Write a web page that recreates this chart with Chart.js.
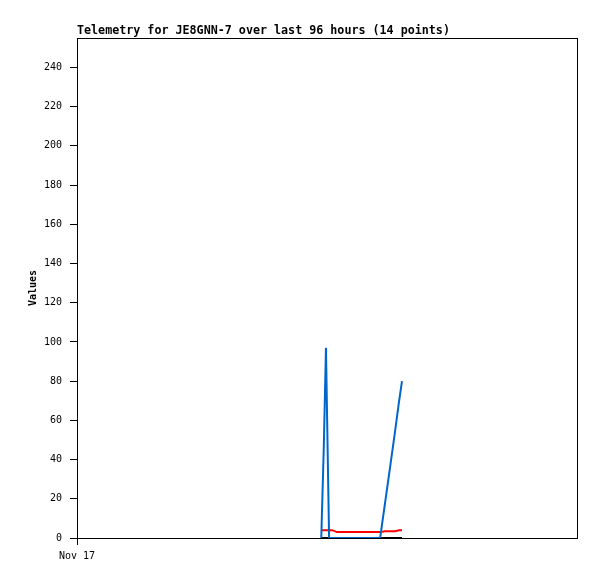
<!DOCTYPE html>
<html>
<head>
<meta charset="utf-8">
<script src="https://cdn.jsdelivr.net/npm/chart.js@4/dist/chart.umd.min.js"></script>
<style>
  html, body { margin: 0; padding: 0; background: #fff; }
  #wrap { width: 597px; height: 579px; }
</style>
</head>
<body>
<div id="wrap"><canvas id="telemetry" width="597" height="579"></canvas></div>
<script>
// data, hours since Nov 17 00:00
const hours = [46.9, 47.4, 47.8, 48.4, 49.0, 49.9, 52.0, 55.0, 58.2, 59.1, 60.0, 61.1, 61.8, 62.4];
const blueVals = [0, 48, 97, 0, 0, 0, 0, 0, 0, 17, 34, 55, 69, 80];
const redVals = [4, 4, 4, 4, 4, 3, 3, 3, 3, 3.4, 3.4, 3.4, 3.9, 3.9];
const blackVals = [0, 0, 0, 0, 0, 0, 0, 0, 0, 0, 0, 0, 0, 0];
const yTicks = [0, 20, 40, 60, 80, 100, 120, 140, 160, 180, 200, 220, 240];
const xTickLabels = ["Nov 17"];
const titleText = "Telemetry for JE8GNN-7 over last 96 hours (14 points)";

const mono = "'DejaVu Sans Mono', monospace";

const toPoints = (vals) => vals.map((v, i) => ({ x: hours[i], y: v }));

// ! frame + title
const framePlugin = {
  id: "frame",
  afterDraw(chart) {
    const { ctx, chartArea } = chart;
    ctx.save();
    ctx.strokeStyle = "#000";
    ctx.lineWidth = 1;
    ctx.strokeRect(chartArea.left + 0.5, chartArea.top + 0.5, chartArea.right - chartArea.left, chartArea.bottom - chartArea.top);
    ctx.fillStyle = "#000";
    ctx.font = "bold 11.7px " + mono;
    ctx.textBaseline = "alphabetic";
    ctx.fillText(titleText, chartArea.left, 34);
    ctx.restore();
  },
};

const ctx = document.querySelector("#telemetry").getContext("2d");
new Chart(ctx, {
  type: "line",
  data: {
    datasets: [
      {
        label: "blue",
        data: toPoints(blueVals),
        borderColor: "#0066cc",
        borderWidth: 2,
      },
      {
        label: "red",
        data: toPoints(redVals),
        borderColor: "#ff0000",
        borderWidth: 2,
      },
      {
        label: "black",
        data: toPoints(blackVals),
        borderColor: "#000000",
        borderWidth: 2,
      },
    ],
  },
  options: {
    responsive: false,
    animation: false,
    layout: { padding: { top: 38, right: 20, left: 0, bottom: 0 } },
    elements: { point: { radius: 0 }, line: { tension: 0 } },
    plugins: {
      legend: { display: false },
      tooltip: { enabled: false },
      title: { display: false },
    },
    scales: {
      x: {
        type: "linear",
        min: 0,
        max: 96,
        afterBuildTicks: (scale) => {
          scale.ticks = [{ value: 0 }];
        },
        afterFit: (scale) => {
          scale.height = 41;
        },
        ticks: {
          color: "#000",
          font: { family: mono, size: 10 },
          padding: 5,
          maxRotation: 0,
          autoSkip: false,
          callback: (v, i) => xTickLabels[i],
        },
        grid: { drawOnChartArea: false, color: "#000", tickLength: 7 },
        border: { color: "#000" },
      },
      y: {
        min: 0,
        max: 255,
        afterBuildTicks: (scale) => {
          scale.ticks = yTicks.map((v) => ({ value: v }));
        },
        afterFit: (scale) => {
          scale.width = 77;
        },
        ticks: {
          color: "#000",
          font: { family: mono, size: 10 },
          padding: 8,
        },
        grid: { drawOnChartArea: false, color: "#000", tickLength: 7 },
        border: { color: "#000" },
        title: {
          display: true,
          text: "Values",
          color: "#000",
          font: { family: mono, size: 10, weight: "bold" },
          padding: { top: 27, bottom: 0 },
        },
      },
    },
  },
  plugins: [framePlugin],
});
</script>
</body>
</html>
